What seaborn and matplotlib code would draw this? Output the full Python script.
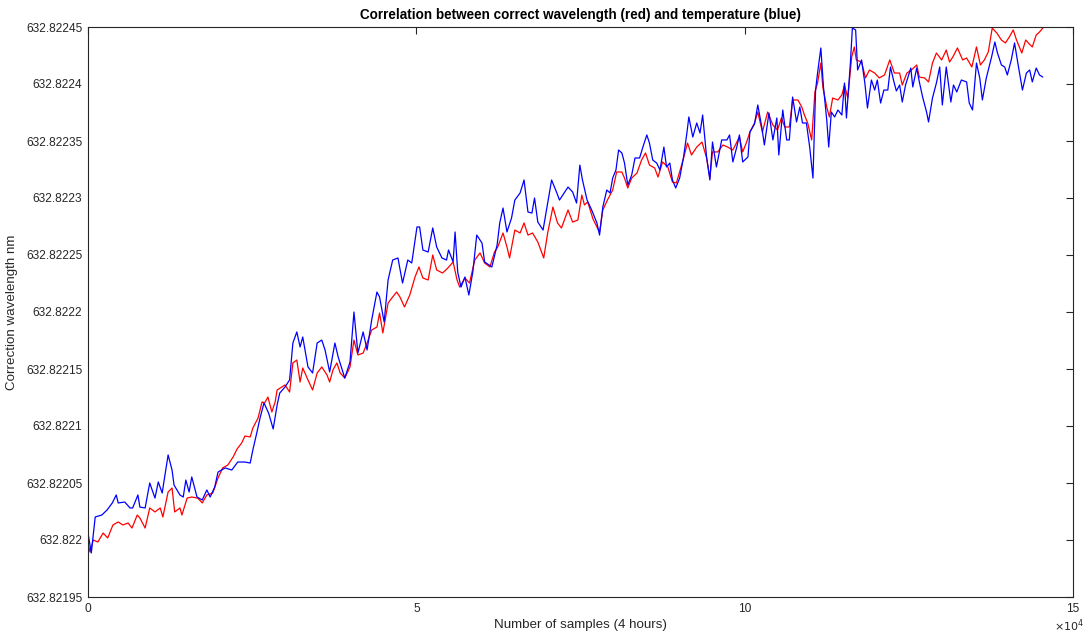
import numpy as np
import matplotlib
matplotlib.use("Agg")
import matplotlib.pyplot as plt
import pandas as pd
import seaborn as sns

# samples in units of 1e4, wavelength as offset above 632.822 nm in units of 1e-5 nm
blue_x = [0.00, 0.05, 0.11, 0.21, 0.29, 0.37, 0.43, 0.46, 0.56, 0.64, 0.68, 0.76, 0.79, 0.87, 0.94,
          1.02, 1.07, 1.13, 1.16, 1.22, 1.28, 1.31, 1.40, 1.45, 1.49, 1.54, 1.58, 1.66, 1.74, 1.81,
          1.86, 1.93, 1.98, 2.09, 2.19, 2.28, 2.39, 2.47, 2.51, 2.57, 2.62, 2.68, 2.75, 2.82, 2.88,
          2.92, 3.00, 3.07, 3.12, 3.18, 3.23, 3.27, 3.35, 3.42, 3.49, 3.56, 3.61, 3.68, 3.76, 3.81,
          3.91, 3.99, 4.05, 4.11, 4.19, 4.25, 4.32, 4.40, 4.44, 4.51, 4.57, 4.64, 4.72, 4.79, 4.87,
          4.93, 5.01, 5.05, 5.10, 5.18, 5.25, 5.31, 5.39, 5.46, 5.49, 5.56, 5.59, 5.63, 5.68, 5.74,
          5.80, 5.86, 5.92, 6.00, 6.04, 6.15, 6.23, 6.27, 6.32, 6.38, 6.45, 6.50, 6.58, 6.64, 6.70,
          6.76, 6.80, 6.85, 6.93, 7.00, 7.06, 7.14, 7.18, 7.23, 7.31, 7.38, 7.44, 7.49, 7.53, 7.60,
          7.67, 7.75, 7.79, 7.84, 7.90, 7.95, 7.99, 8.04, 8.08, 8.13, 8.17, 8.22, 8.28, 8.33, 8.40,
          8.45, 8.51, 8.55, 8.60, 8.66, 8.71, 8.77, 8.81, 8.86, 8.90, 8.95, 9.01, 9.07, 9.12, 9.15,
          9.21, 9.27, 9.32, 9.36, 9.42, 9.47, 9.51, 9.57, 9.65, 9.73, 9.77, 9.82, 9.88, 9.92, 9.97,
          10.05, 10.08, 10.15, 10.20, 10.26, 10.30, 10.37, 10.43, 10.49, 10.52, 10.58, 10.64, 10.68,
          10.73, 10.79, 10.84, 10.88, 10.94, 10.99, 11.04, 11.08, 11.11, 11.16, 11.20, 11.25, 11.28,
          11.32, 11.37, 11.42, 11.48, 11.52, 11.55, 11.61, 11.64, 11.69, 11.72, 11.78, 11.83, 11.87,
          11.93, 11.98, 12.02, 12.07, 12.12, 12.18, 12.22, 12.27, 12.31, 12.36, 12.40, 12.45, 12.53,
          12.56, 12.62, 12.66, 12.71, 12.77, 12.80, 12.86, 12.92, 12.97, 13.01, 13.07, 13.14, 13.18,
          13.23, 13.30, 13.38, 13.42, 13.47, 13.53, 13.58, 13.62, 13.68, 13.76, 13.81, 13.85, 13.91,
          13.96, 14.00, 14.06, 14.11, 14.16, 14.23, 14.29, 14.34, 14.38, 14.44, 14.49, 14.54]
blue_y = [0.61, -1.14, 2.02, 2.19, 2.63, 3.25, 3.95, 3.25, 3.33, 2.81, 2.81, 3.95, 2.89, 2.81, 5.00,
          3.68, 5.09, 4.12, 5.26, 7.46, 6.14, 4.82, 3.95, 3.77, 5.26, 4.21, 5.53, 3.77, 3.51, 4.39,
          3.77, 4.65, 5.96, 6.32, 6.14, 6.84, 6.84, 6.75, 7.89, 9.39, 10.70, 12.02, 11.14, 9.74, 11.84,
          12.89, 13.42, 14.04, 17.28, 18.25, 16.93, 17.81, 15.18, 14.65, 17.28, 17.54, 16.67, 14.74, 17.28, 16.05,
          14.21, 15.61, 20.00, 16.40, 18.25, 16.67, 19.30, 21.75, 21.32, 19.12, 22.81, 24.56, 24.74, 22.54, 24.56,
          24.30, 27.46, 27.46, 25.44, 25.26, 27.37, 25.70, 24.74, 24.56, 25.44, 24.39, 27.02, 23.51, 22.19, 23.07,
          21.49, 23.51, 26.75, 26.05, 24.39, 23.95, 25.88, 27.81, 29.12, 27.02, 28.25, 29.82, 30.44, 31.58, 28.77,
          28.68, 30.00, 27.89, 27.19, 29.56, 31.58, 30.44, 29.82, 30.26, 30.96, 30.53, 29.56, 32.89, 31.58, 29.82,
          28.95, 27.81, 26.75, 29.21, 30.70, 30.44, 31.75, 32.46, 34.21, 33.95, 33.07, 31.14, 32.02, 33.51, 33.51,
          34.47, 35.53, 34.82, 33.33, 33.07, 32.46, 34.47, 32.72, 33.07, 31.58, 30.88, 31.75, 33.60, 35.70, 37.11,
          35.35, 36.58, 35.70, 37.28, 33.60, 31.58, 34.91, 32.72, 35.09, 35.09, 35.53, 33.16, 34.47, 35.53, 33.16,
          33.60, 35.79, 36.49, 38.16, 36.23, 34.65, 37.46, 35.09, 37.02, 33.77, 37.72, 35.09, 35.09,
          38.86, 36.67, 37.98, 36.58, 36.58, 34.47, 31.75, 39.47, 40.96, 43.16, 39.74, 36.84, 34.47,
          37.54, 37.11, 37.72, 37.28, 40.09, 37.02, 41.84, 44.91, 44.74, 41.23, 42.11, 40.09, 37.89,
          40.35, 39.47, 40.35, 38.33, 39.47, 39.47, 41.49, 40.26, 39.39, 39.91, 38.42, 39.91, 41.40,
          39.74, 41.40, 40.18, 38.86, 37.54, 36.67, 38.77, 40.09, 41.49, 38.16, 41.49, 38.42, 39.91,
          39.30, 40.35, 40.18, 38.33, 37.72, 41.84, 40.53, 38.60, 40.53, 42.37, 43.68, 42.72, 41.67,
          41.49, 40.79, 42.11, 43.60, 41.84, 39.47, 40.96, 41.23, 40.18, 41.40, 40.79, 40.61]

red_x = [0.00, 0.03, 0.08, 0.15, 0.23, 0.30, 0.38, 0.46, 0.53, 0.61, 0.67, 0.75, 0.79, 0.87, 0.94,
         1.02, 1.10, 1.14, 1.22, 1.28, 1.32, 1.40, 1.43, 1.51, 1.58, 1.67, 1.74, 1.81, 1.90, 1.98,
         2.05, 2.13, 2.21, 2.27, 2.34, 2.39, 2.47, 2.51, 2.59, 2.65, 2.69, 2.74, 2.80, 2.85, 2.88,
         2.95, 3.00, 3.07, 3.12, 3.18, 3.23, 3.27, 3.35, 3.42, 3.49, 3.56, 3.64, 3.68, 3.73, 3.79,
         3.84, 3.91, 3.99, 4.05, 4.11, 4.19, 4.25, 4.32, 4.40, 4.44, 4.49, 4.57, 4.64, 4.70, 4.75,
         4.82, 4.90, 4.98, 5.04, 5.10, 5.18, 5.25, 5.31, 5.40, 5.48, 5.56, 5.62, 5.66, 5.74, 5.81,
         5.89, 5.97, 6.04, 6.12, 6.19, 6.24, 6.32, 6.38, 6.42, 6.50, 6.58, 6.64, 6.70, 6.77, 6.85,
         6.94, 7.00, 7.08, 7.15, 7.21, 7.31, 7.38, 7.46, 7.52, 7.56, 7.61, 7.69, 7.75, 7.79, 7.84,
         7.91, 7.99, 8.05, 8.13, 8.17, 8.22, 8.28, 8.36, 8.43, 8.49, 8.55, 8.63, 8.68, 8.75, 8.83,
         8.90, 8.96, 9.04, 9.09, 9.13, 9.19, 9.27, 9.35, 9.42, 9.47, 9.51, 9.59, 9.67, 9.74, 9.82,
         9.92, 9.97, 10.03, 10.08, 10.15, 10.20, 10.27, 10.35, 10.43, 10.50, 10.56, 10.61, 10.68,
         10.73, 10.81, 10.87, 10.91, 10.96, 11.02, 11.07, 11.11, 11.16, 11.19, 11.25, 11.29, 11.34,
         11.42, 11.48, 11.52, 11.57, 11.63, 11.67, 11.70, 11.78, 11.84, 11.90, 11.98, 12.05, 12.13,
         12.21, 12.28, 12.36, 12.40, 12.47, 12.54, 12.62, 12.66, 12.74, 12.80, 12.86, 12.92, 13.00,
         13.07, 13.12, 13.17, 13.24, 13.32, 13.38, 13.46, 13.53, 13.59, 13.65, 13.71, 13.77, 13.84,
         13.91, 13.97, 14.03, 14.09, 14.14, 14.22, 14.28, 14.32, 14.38, 14.44, 14.49, 14.54]
red_y = [-0.26, -1.05, 0.00, -0.18, 0.61, 0.18, 1.32, 1.58, 1.32, 1.49, 1.05, 2.19, 1.93, 1.05, 2.81,
         2.46, 2.81, 2.02, 4.21, 4.56, 2.46, 2.81, 2.19, 3.68, 3.77, 3.68, 3.25, 3.95, 4.12, 5.44,
         6.32, 6.58, 7.28, 7.98, 8.51, 9.12, 9.04, 9.82, 10.70, 12.11, 12.02, 12.54, 11.23, 12.11, 13.16,
         13.42, 13.60, 12.98, 15.53, 15.79, 13.86, 15.09, 14.04, 13.16, 14.65, 15.18, 14.47, 13.86, 14.91, 15.53,
         14.65, 14.21, 15.18, 17.54, 16.23, 16.40, 17.28, 18.42, 18.68, 19.91, 18.16, 20.79, 21.32, 21.75, 21.32,
         20.44, 21.49, 23.07, 23.95, 22.98, 22.81, 25.00, 23.68, 23.42, 23.86, 24.39, 22.81, 22.19, 22.98, 22.54,
         24.56, 25.18, 24.30, 23.95, 25.26, 25.70, 26.93, 25.70, 24.74, 27.19, 26.93, 27.81, 26.75, 26.93, 26.14,
         24.74, 26.93, 29.21, 27.81, 27.37, 28.95, 27.89, 28.07, 30.26, 29.39, 29.65, 28.16, 27.46, 27.02, 28.95,
         29.82, 30.70, 32.28, 32.28, 31.75, 30.88, 31.75, 32.19, 33.33, 33.95, 32.89, 32.63, 31.84, 33.16, 32.72,
         31.40, 31.32, 32.89, 33.95, 34.82, 33.77, 34.47, 34.91, 33.51, 31.75, 34.04, 34.04, 34.65, 34.47, 34.21,
         35.35, 34.04, 34.91, 35.79, 36.58, 37.54, 35.79, 37.54, 36.40, 35.96, 37.02, 36.23, 36.23,
         38.60, 38.60, 37.98, 37.28, 36.58, 35.09, 39.30, 40.09, 41.84, 39.74, 37.98, 37.11, 38.77,
         38.60, 39.04, 39.91, 38.77, 42.37, 43.25, 42.11, 41.93, 40.53, 41.23, 40.96, 40.53, 40.79,
         42.11, 40.96, 40.96, 39.91, 40.96, 41.23, 41.67, 40.61, 40.53, 40.18, 41.84, 42.72, 42.11,
         42.98, 41.93, 42.37, 43.16, 42.11, 42.28, 41.49, 43.25, 41.67, 42.11, 42.81, 44.91, 44.47,
         43.86, 43.60, 44.12, 44.74, 43.86, 42.72, 43.86, 43.60, 43.25, 44.30, 44.56, 44.91]

ytick_vals = [632.82195, 632.8220, 632.82205, 632.8221, 632.82215, 632.8222,
              632.82225, 632.8223, 632.82235, 632.8224, 632.82245]
ytick_labels = ["632.82195", "632.822", "632.82205", "632.8221", "632.82215", "632.8222",
                "632.82225", "632.8223", "632.82235", "632.8224", "632.82245"]
xtick_vals = [0, 5, 10, 15]

base = 632.822
blue = pd.DataFrame({"samples": np.array(blue_x) * 1e4, "wl": base + np.array(blue_y) * 1e-5})
red = pd.DataFrame({"samples": np.array(red_x) * 1e4, "wl": base + np.array(red_y) * 1e-5})

sns.set_style("white")
plt.rcParams["font.family"] = ["Liberation Sans", "DejaVu Sans"]
ink = "#262626"

fig = plt.figure(figsize=(10.91, 6.34), dpi=100)
ax = fig.add_axes([88 / 1091, 1 - 597 / 634, (1073 - 88) / 1091, (597 - 27) / 634])

sns.lineplot(data=red, x="samples", y="wl", color="#ff0000", lw=0.9, estimator=None, ax=ax)
sns.lineplot(data=blue, x="samples", y="wl", color="#0000ff", lw=0.9, estimator=None, ax=ax)

ax.set_xlim(0, 15e4)
ax.set_ylim(632.82195, 632.82245)
ax.set_xticks([v * 1e4 for v in xtick_vals])
ax.set_xticklabels([str(v) for v in xtick_vals])
ax.set_yticks(ytick_vals)
ax.set_yticklabels(ytick_labels)
ax.tick_params(direction="in", length=5, width=0.8, colors=ink, labelsize=8.6,
               top=True, right=True, pad=4)
for s in ax.spines.values():
    s.set_color(ink)
    s.set_linewidth(0.8)

ax.set_xlabel("Number of samples (4 hours)", fontsize=9.6, color=ink, labelpad=3)
ax.set_ylabel("Correction wavelength nm", fontsize=9.6, color=ink, labelpad=6)
ax.set_title("Correlation between correct wavelength (red) and temperature (blue)",
             fontsize=9.75, fontweight="bold", color="black", pad=6)
ax.text(0.996, -0.036, r"$\times10^{4}$", transform=ax.transAxes, ha="center", va="top",
        fontsize=8, color=ink)

fig.savefig("out.png", dpi=100)
